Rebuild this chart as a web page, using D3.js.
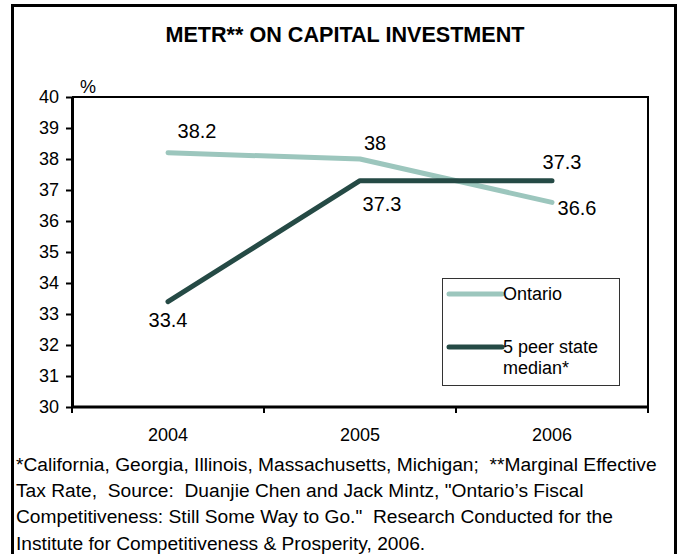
<!DOCTYPE html>
<html>
<head>
<meta charset="utf-8">
<script src="https://cdn.jsdelivr.net/npm/d3@7"></script>
<style>
  html, body { margin: 0; padding: 0; background: #fff; }
  svg { display: block; font-family: Arial, "Liberation Sans", sans-serif; }
  svg text { white-space: pre; }
</style>
</head>
<body>
<svg id="chart" width="678" height="554"></svg>
<script>
// Data
const years = ["2004", "2005", "2006"];
const ontario = [38.2, 38.0, 36.6];
const peerMedian = [33.4, 37.3, 37.3];
const yTicks = [30, 31, 32, 33, 34, 35, 36, 37, 38, 39, 40];
const seriesNames = ["Ontario", "5 peer state median*"];
const footnote = [
  "*California, Georgia, Illinois, Massachusetts, Michigan;  **Marginal Effective",
  "Tax Rate,  Source:  Duanjie Chen and Jack Mintz, \"Ontario\u2019s Fiscal",
  "Competitiveness: Still Some Way to Go.\"  Research Conducted for the",
  "Institute for Competitiveness & Prosperity, 2006."
];

// Label placement for each series point (pixel offsets from the point)
const ontarioLabelOffset = [[29, -15], [15, -9], [25, 13]];
const peerLabelOffset = [[0, 25], [22, 30], [10, -12]];

const colors = { ontario: "#9cc6bd", peer: "#254a45" };
const FONT = "Arial, 'Liberation Sans', sans-serif";

const svg = d3.select("#chart");

// Outer frame
svg.append("rect")
  .attr("x", 12.5).attr("y", 5.5)
  .attr("width", 663).attr("height", 570)
  .attr("fill", "none").attr("stroke", "#000").attr("stroke-width", 3);

// Title
svg.append("text")
  .attr("x", 345).attr("y", 42)
  .attr("text-anchor", "middle")
  .style("font-weight", "bold").style("font-size", "21.6px")
  .text("METR** ON CAPITAL INVESTMENT");

const plot = { left: 72, right: 648, top: 97, bottom: 407 };

const x = d3.scaleBand().domain(years).range([plot.left, plot.right]).padding(0);
const y = d3.scaleLinear().domain([30, 40]).range([plot.bottom, plot.top]);

// Plot frame (top and right edges)
svg.append("path")
  .attr("d", `M${plot.left},${plot.top}H${plot.right}V${plot.bottom}`)
  .attr("fill", "none").attr("stroke", "#000").attr("stroke-width", 2);

// Y axis
const yAxis = svg.append("g")
  .attr("transform", `translate(${plot.left},0)`)
  .call(d3.axisLeft(y).tickValues(yTicks).tickSize(6).tickSizeOuter(0).tickPadding(7));
yAxis.attr("font-size", null).attr("font-family", null);
yAxis.select(".domain").attr("stroke-width", 3);
yAxis.selectAll(".tick line").attr("stroke-width", 2);
yAxis.selectAll(".tick text").style("font-size", "18px").attr("fill", "#000")
  .style("font-family", FONT);

// Unit label
svg.append("text").attr("x", 80).attr("y", 93).style("font-size", "18px").text("%");

// X axis: ticks at category boundaries, labels at category centres
const xAxisG = svg.append("g").attr("transform", `translate(0,${plot.bottom})`);
xAxisG.append("line")
  .attr("x1", plot.left).attr("x2", plot.right)
  .attr("stroke", "#000").attr("stroke-width", 3);
const bounds = years.map(d => x(d)).concat([x(years[years.length - 1]) + x.bandwidth()]);
xAxisG.selectAll("line.tick").data(bounds).join("line")
  .attr("class", "tick")
  .attr("x1", d => d).attr("x2", d => d)
  .attr("y1", 0).attr("y2", 6)
  .attr("stroke", "#000").attr("stroke-width", 2);
xAxisG.selectAll("text").data(years).join("text")
  .attr("x", d => x(d) + x.bandwidth() / 2)
  .attr("y", 34)
  .attr("text-anchor", "middle").style("font-size", "18px")
  .text(d => d);

const cx = (d, i) => x(years[i]) + x.bandwidth() / 2;
const line = d3.line().x(cx).y(d => y(d));

function drawSeries(values, color, offsets) {
  svg.append("path")
    .datum(values)
    .attr("d", line)
    .attr("fill", "none")
    .attr("stroke", color).attr("stroke-width", 5)
    .attr("stroke-linejoin", "round").attr("stroke-linecap", "round");
  svg.append("g").selectAll("text").data(values).join("text")
    .attr("x", (d, i) => cx(d, i) + offsets[i][0])
    .attr("y", (d, i) => y(d) + offsets[i][1])
    .attr("text-anchor", "middle").style("font-size", "20px")
    .text(d => d3.format("~g")(d));
}

drawSeries(ontario, colors.ontario, ontarioLabelOffset);
drawSeries(peerMedian, colors.peer, peerLabelOffset);

// Legend
const legend = svg.append("g");
legend.append("rect")
  .attr("x", 442.5).attr("y", 278.5).attr("width", 177).attr("height", 107)
  .attr("fill", "#fff").attr("stroke", "#333").attr("stroke-width", 1);
const legendItems = [
  { name: seriesNames[0], color: colors.ontario, y: 294, lines: ["Ontario"] },
  { name: seriesNames[1], color: colors.peer, y: 347, lines: ["5 peer state", "median*"] }
];
legendItems.forEach(it => {
  legend.append("line")
    .attr("x1", 449).attr("x2", 502).attr("y1", it.y).attr("y2", it.y)
    .attr("stroke", it.color).attr("stroke-width", 5).attr("stroke-linecap", "round");
  const t = legend.append("text").attr("x", 503).attr("y", it.y + 6).style("font-size", "18px");
  it.lines.forEach((l, k) => t.append("tspan").attr("x", 503).attr("dy", k ? 21 : 0).text(l));
});

// Footnote
svg.append("g").selectAll("text").data(footnote).join("text")
  .attr("x", 16).attr("y", (d, i) => 471 + i * 26.2)
  .style("font-size", "19.2px")
  .text(d => d);
</script>
</body>
</html>
